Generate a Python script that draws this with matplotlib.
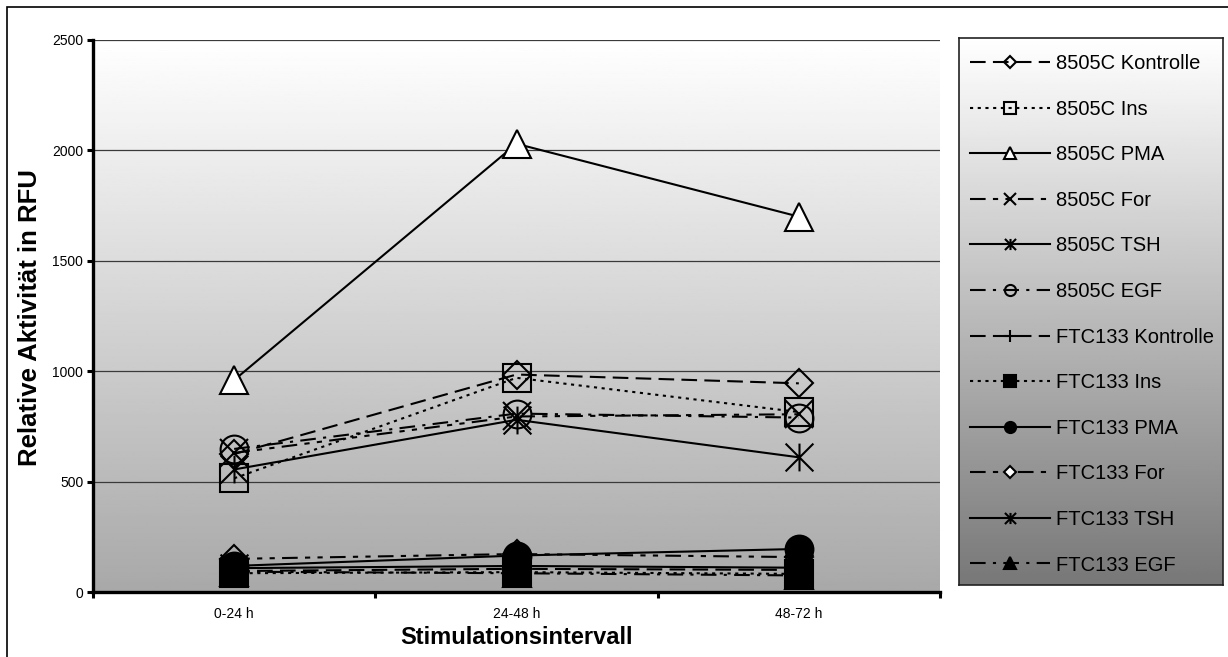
import numpy as np
import matplotlib
matplotlib.use("Agg")
import matplotlib.pyplot as plt
from matplotlib.path import Path
from matplotlib.patches import Rectangle

plt.rcParams['font.family'] = ['Liberation Sans', 'DejaVu Sans']

W, H = 1228, 657

intervals = ["0-24 h", "24-48 h", "48-72 h"]

# 8505C
c_kontrolle = [625, 985, 945]
c_ins = [515, 970, 815]
c_pma = [960, 2030, 1700]
c_for = [630, 795, 805]
c_tsh = [555, 780, 610]
c_egf = [648, 808, 790]

# FTC133
f_kontrolle = [95, 105, 100]
f_ins = [85, 90, 82]
f_pma = [118, 165, 195]
f_for = [150, 172, 158]
f_tsh = [108, 118, 110]
f_egf = [92, 85, 75]

labels = ["8505C Kontrolle", "8505C Ins", "8505C PMA", "8505C For", "8505C TSH", "8505C EGF",
          "FTC133 Kontrolle", "FTC133 Ins", "FTC133 PMA", "FTC133 For", "FTC133 TSH", "FTC133 EGF"]
values = [c_kontrolle, c_ins, c_pma, c_for, c_tsh, c_egf,
          f_kontrolle, f_ins, f_pma, f_for, f_tsh, f_egf]

# excel-ish dash patterns
DASH = (0, (7.5, 3.5))
DOT = (0, (1.5, 2.2))
SOLID = '-'
DDD = (0, (7.5, 3.5, 2.5, 3.5, 2.5, 3.5))
DASHDOT = (0, (7.5, 3.5, 1.5, 3.5))
styles = [DASH, DOT, SOLID, DDD, SOLID, DASHDOT] * 2

ast = Path([(0, -1), (0, 1), (-1, -1), (1, 1), (-1, 1), (1, -1)],
           [Path.MOVETO, Path.LINETO, Path.MOVETO, Path.LINETO, Path.MOVETO, Path.LINETO])
markers = ['D', 's', '^', 'x', ast, 'o', '+', 's', 'o', 'D', ast, '^']
msizes = [14.5, 20, 20, 20, 20, 20, 22, 20, 20, 14.5, 20, 20]
faces = ['none', 'none', 'white', 'none', 'none', 'none',
         'none', 'black', 'black', 'none', 'none', 'black']

fig = plt.figure(figsize=(W / 100, H / 100), dpi=100)
ax = fig.add_axes([93 / W, 1 - 592 / H, (940 - 93) / W, (592 - 40) / H])

grad = np.linspace(1.0, 0.66, 256)[:, None]
ax.imshow(grad, cmap='gray', vmin=0, vmax=1, extent=(-0.5, 2.5, 0, 2500),
          aspect='auto', origin='upper', zorder=0)

x = np.arange(len(intervals))
handles = []
for i in range(len(labels)):
    ln, = ax.plot(x, values[i], color='black', lw=1.5, linestyle=styles[i],
                  marker=markers[i], ms=msizes[i], mfc=faces[i], mec='black',
                  mew=1.5, zorder=3 + i, clip_on=False)
    handles.append(ln)

ax.set_xlim(-0.5, 2.5)
ax.set_ylim(0, 2500)
ax.set_yticks(np.arange(0, 2501, 500))
ax.yaxis.grid(True, color='#3a3a3a', lw=0.9)
ax.set_axisbelow(True)
ax.set_xticks([-0.5, 0.5, 1.5, 2.5])
ax.set_xticklabels([])
ax.set_xticks(x, minor=True)
ax.set_xticklabels(intervals, minor=True)
ax.tick_params(axis='x', which='major', length=4, width=2.2, direction='out')
ax.tick_params(axis='x', which='minor', length=0, pad=11, labelsize=10)
ax.tick_params(axis='y', length=4, width=2.2, direction='out', labelsize=10, pad=3)
for s in ['top', 'right']:
    ax.spines[s].set_visible(False)
for s in ['left', 'bottom']:
    ax.spines[s].set_linewidth(2.4)
    ax.spines[s].set_zorder(20)

fig.text(517 / W, 1 - 637 / H, "Stimulationsintervall", ha='center', va='center',
         fontsize=17, fontweight='bold')
fig.text(30 / W, 1 - 318 / H, "Relative Aktivität in RFU", ha='center', va='center',
         rotation=90, fontsize=18.5, fontweight='bold')

# legend box with its own gradient
lax = fig.add_axes([959 / W, 1 - 585 / H, (1223 - 959) / W, (585 - 38) / H])
lgrad = np.linspace(1.0, 0.47, 256)[:, None]
lax.imshow(lgrad, cmap='gray', vmin=0, vmax=1, extent=(0, 1, 0, 1),
           aspect='auto', origin='upper')
lax.set_xticks([])
lax.set_yticks([])
for s in lax.spines.values():
    s.set_linewidth(1.2)
    s.set_color('#222222')

leg = lax.legend(handles, labels, loc='upper left', bbox_to_anchor=(-0.02, 1.0),
                 frameon=False, fontsize=14.5, handlelength=4.0, handletextpad=0.3,
                 labelspacing=1.32, borderaxespad=0, borderpad=0.8, markerscale=0.4)
leg.legend_handles[9].set_markerfacecolor('white')

fig.patches.append(Rectangle((7 / W, -0.05), 1.1, 1.05 - 7 / H, transform=fig.transFigure,
                             fill=False, edgecolor='black', lw=1.2))

fig.savefig("out.png", dpi=100, facecolor='white')
